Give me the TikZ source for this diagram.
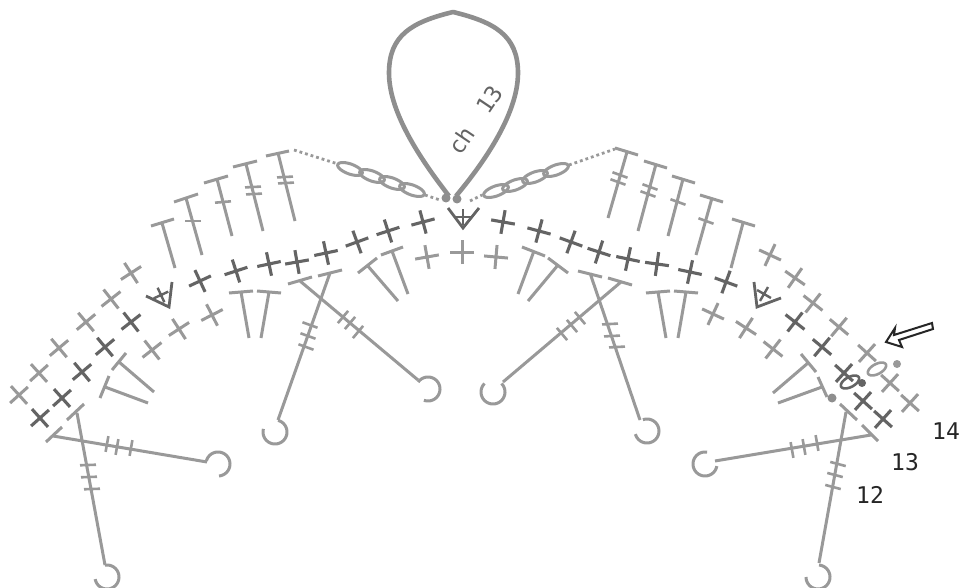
\documentclass[tikz,border=0pt]{standalone}
\usepackage{fontspec}
\newfontfamily\lab[WordSpace=1.6]{DejaVu Sans Mono}
\definecolor{lg}{HTML}{999999}
\definecolor{dg}{HTML}{646464}
\definecolor{lp}{HTML}{8E8E8E}
\newcommand{\Cr}[4]{\draw[#1] ({#2+12*cos(#4)},{#3+12*sin(#4)}) -- ({#2-12*cos(#4)},{#3-12*sin(#4)}) ({#2+12*cos(#4+90)},{#3+12*sin(#4+90)}) -- ({#2-12*cos(#4+90)},{#3-12*sin(#4+90)});}
\newcommand{\SmCr}[3]{\draw[darkst,line width=2.4pt] ({#1+8*cos(#3)},{#2+8*sin(#3)}) -- ({#1-8*cos(#3)},{#2-8*sin(#3)}) ({#1+8*cos(#3+90)},{#2+8*sin(#3+90)}) -- ({#1-8*cos(#3+90)},{#2-8*sin(#3+90)});}
\newcommand{\Tk}[3]{\draw[lightst,line width=2.6pt] ({#1+8*cos(#3)},{#2+8*sin(#3)}) -- ({#1-8*cos(#3)},{#2-8*sin(#3)});}
\newcommand{\Ts}[8]{\draw[lightst] (#1,#2) -- (#3,#4) (#5,#6) -- (#7,#8);}
\newcommand{\Hk}[4]{\draw[lightst,domain=#3:#4,samples=36,smooth,variable=\t] plot ({#1+12*cos(\t)},{#2+12*sin(\t)});}
\newcommand{\Ov}[6]{\draw[#1,domain=0:360,samples=37,smooth,variable=\t] plot ({#2+#4*cos(\t)*cos(#6)-#5*sin(\t)*sin(#6)},{#3+#4*cos(\t)*sin(#6)+#5*sin(\t)*cos(#6)}) -- cycle;}
\tikzset{
  lightst/.style={draw=lg,line width=3pt},
  darkst/.style={draw=dg,line width=3.1pt},
  chainst/.style={draw=lg,line width=3pt},
  dotst/.style={draw=lg,line width=2.8pt,dash pattern=on 2.8pt off 3pt},
  loopst/.style={draw=lp,line width=4.6pt,line join=round},
  vst/.style={draw=dg,line width=2.8pt,line join=miter},
  numst/.style={font=\lab\fontsize{23}{26}\selectfont,text=black!85,inner sep=0pt}
}
\begin{document}
\begin{tikzpicture}[x=1pt,y=-1pt]
\useasboundingbox (0,0) rectangle (961,588);
\fill[white] (0,0) rectangle (961,588);
% loop
\draw[loopst] (449,196) .. controls (425,165) and (389,115) .. (389,73) .. controls (389,35) and (412,22) .. (453,12) .. controls (494,22) and (518,35) .. (518,73) .. controls (518,115) and (482,165) .. (456,196);
\node[numst,rotate=56,text=dg] (ch) at (475,120) {ch 13};
\fill[lp] (446,198) circle (4.5) (457,199) circle (4.5);
% dotted lines
\draw[dotst] (294,150) -- (338,164);
\draw[dotst] (425,195) -- (440,200);
\draw[dotst] (470,201) -- (482,195);
\draw[dotst] (569,165) -- (615,149);
% chains
\Ov{chainst}{350}{169}{13}{5}{20}
\Ov{chainst}{372}{176}{13}{5}{20}
\Ov{chainst}{392}{183}{13}{5}{20}
\Ov{chainst}{412}{190}{13}{5}{20}
\Ov{chainst}{496}{191}{13}{5}{-20}
\Ov{chainst}{515}{185}{13}{5}{-20}
\Ov{chainst}{535}{177}{13}{5}{-20}
\Ov{chainst}{556}{170}{13}{5}{-20}
% upper T stitches, left
\Ts{151}{226}{174}{219}{162}{223}{175}{268}
\Ts{174}{202}{198}{194}{186}{198}{202}{255}
\Ts{204}{183}{228}{176}{217}{179}{232}{236}
\Ts{233}{167}{257}{161}{246}{164}{263}{231}
\Ts{266}{156}{289}{151}{278}{153}{295}{221}
\Tk{193}{221}{0} \Tk{223}{202}{-5}
\Tk{253}{187}{-3} \Tk{254}{194}{-3}
\Tk{285}{177}{-3} \Tk{286}{183}{-3}
% upper T stitches, right
\Ts{615}{148}{638}{155}{627}{152}{608}{218}
\Ts{644}{161}{667}{168}{656}{164}{638}{231}
\Ts{672}{176}{695}{183}{683}{179}{668}{236}
\Ts{700}{195}{723}{202}{712}{198}{696}{255}
\Ts{732}{219}{755}{226}{743}{223}{731}{268}
\Tk{620}{175}{20} \Tk{618}{182}{20}
\Tk{650}{187}{20} \Tk{648}{194}{20}
\Tk{678}{202}{20} \Tk{706}{221}{20}
% lower T stitches
\Ts{100}{398}{109}{376}{105}{387}{148}{403}
\Ts{112}{370}{126}{353}{119}{362}{154}{392}
\Ts{229}{293}{253}{291}{241}{292}{249}{338}
\Ts{257}{291}{281}{293}{269}{292}{261}{338}
\Ts{358}{273}{377}{258}{367}{265}{398}{301}
\Ts{381}{255}{403}{247}{392}{251}{408}{294}
\Ts{522}{247}{545}{256}{534}{251}{518}{294}
\Ts{548}{258}{568}{273}{558}{265}{528}{301}
\Ts{646}{293}{670}{291}{658}{292}{666}{338}
\Ts{674}{291}{698}{293}{686}{292}{678}{338}
\Ts{801}{354}{816}{372}{808}{363}{773}{393}
\Ts{818}{377}{827}{397}{822}{387}{778}{403}
% long posts with hooks, left
\Ts{288}{284}{312}{277}{300}{281}{418}{380}
\Tk{343}{317}{-50} \Tk{350}{323}{-50} \Tk{358}{332}{-50}
\Hk{428}{389}{215}{470}
\Ts{318}{276}{342}{270}{330}{273}{278}{420}
\Tk{310}{325}{20} \Tk{308}{336}{20} \Tk{306}{347}{20}
\Hk{275}{432}{-75}{195}
\Ts{67}{420}{84}{404}{77}{413}{105}{565}
\Tk{88}{465}{-2} \Tk{89}{477}{-2} \Tk{92}{489}{-2}
\Hk{107}{577}{-100}{170}
\Ts{46}{442}{62}{427}{53}{436}{207}{462}
\Tk{107}{444}{-80} \Tk{117}{447}{-80} \Tk{131}{448}{-80}
\Hk{218}{464}{195}{445}
% long posts with hooks, right
\Ts{578}{271}{602}{277}{590}{273}{640}{420}
\Tk{610}{324}{-3} \Tk{612}{336}{-3} \Tk{617}{347}{-3}
\Hk{647}{431}{-110}{165}
\Ts{608}{278}{632}{285}{621}{282}{503}{382}
\Tk{580}{318}{50} \Tk{572}{326}{50} \Tk{562}{334}{50}
\Hk{493}{392}{-45}{225}
\Ts{840}{404}{857}{420}{846}{412}{819}{563}
\Tk{838}{464}{15} \Tk{835}{475}{15} \Tk{833}{487}{15}
\Hk{818}{577}{-85}{180}
\Ts{862}{425}{878}{441}{871}{435}{715}{461}
\Tk{817}{443}{80} \Tk{804}{447}{80} \Tk{792}{450}{80}
\Hk{705}{464}{280}{10}
% light crosses
\Cr{lightst}{19}{395}{-42}
\Cr{lightst}{39}{373}{-42}
\Cr{lightst}{59}{348}{-40}
\Cr{lightst}{86}{322}{-40}
\Cr{lightst}{111}{299}{-38}
\Cr{lightst}{131}{273}{-33}
\Cr{lightst}{152}{350}{-38}
\Cr{lightst}{179}{329}{-33}
\Cr{lightst}{212}{315}{-27}
\Cr{lightst}{427}{257}{-10}
\Cr{lightst}{462}{252}{0}
\Cr{lightst}{496}{257}{5}
\Cr{lightst}{713}{314}{25}
\Cr{lightst}{746}{328}{33}
\Cr{lightst}{773}{349}{38}
\Cr{lightst}{770}{255}{25}
\Cr{lightst}{795}{278}{35}
\Cr{lightst}{813}{303}{38}
\Cr{lightst}{839}{327}{40}
\Cr{lightst}{867}{353}{42}
\Cr{lightst}{890}{383}{42}
\Cr{lightst}{910}{403}{42}
% dark crosses
\Cr{darkst}{40}{418}{-42}
\Cr{darkst}{62}{398}{-42}
\Cr{darkst}{82}{372}{-40}
\Cr{darkst}{105}{347}{-40}
\Cr{darkst}{131}{322}{-38}
\Cr{darkst}{200}{281}{-25}
\Cr{darkst}{236}{271}{-18}
\Cr{darkst}{269}{264}{-12}
\Cr{darkst}{297}{262}{-10}
\Cr{darkst}{326}{253}{-12}
\Cr{darkst}{357}{242}{-20}
\Cr{darkst}{388}{231}{-18}
\Cr{darkst}{423}{222}{-15}
\Cr{darkst}{503}{222}{10}
\Cr{darkst}{539}{231}{15}
\Cr{darkst}{571}{242}{20}
\Cr{darkst}{599}{252}{18}
\Cr{darkst}{628}{259}{12}
\Cr{darkst}{657}{264}{8}
\Cr{darkst}{690}{272}{12}
\Cr{darkst}{726}{282}{20}
\Cr{darkst}{795}{322}{38}
\Cr{darkst}{822}{347}{40}
\Cr{darkst}{844}{373}{42}
\Cr{darkst}{863}{401}{42}
\Cr{darkst}{883}{419}{42}
% V marks
\draw[vst] (146,296) -- (169,307) -- (172,282);
\SmCr{161}{295}{-25}
\draw[vst] (448,208) -- (463,228) -- (479,208);
\SmCr{463}{217}{0}
\draw[vst] (754,282) -- (757,307) -- (781,298);
\SmCr{764}{294}{30}
% turning ovals and dots
\fill[lp] (832,398) circle (4.5);
\fill[dg] (862,383) circle (4);
\fill[lg] (897,364) circle (4);
\Ov{draw=dg,line width=2.6pt}{850}{382}{10}{5}{-28}
\Ov{draw=lg,line width=2.6pt}{877}{369}{10}{5}{-28}
% arrow
\draw[draw=black!85,fill=white,line width=2pt,line join=miter] (886,342) -- (895,328) -- (894,335) -- (932,323) -- (933,329) -- (899,340) -- (902,347) -- cycle;
% row labels
\node[numst] (r14) at (946,431) {14};
\node[numst] (r13) at (905,462) {13};
\node[numst] (r12) at (870,495) {12};
\end{tikzpicture}
\end{document}
